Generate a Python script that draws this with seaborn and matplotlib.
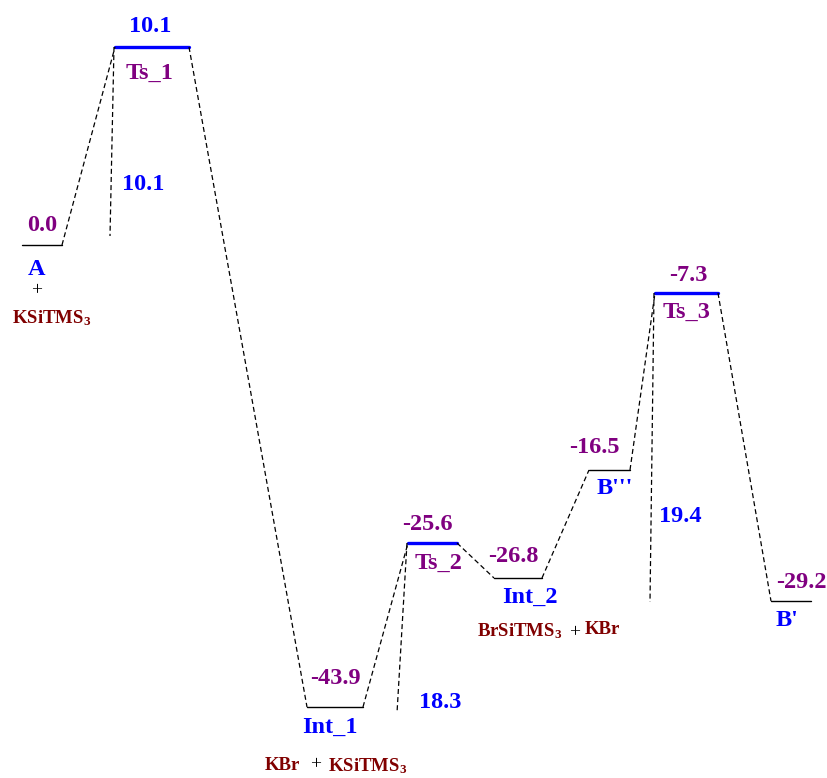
import matplotlib
matplotlib.use("Agg")
import pandas as pd
import matplotlib.pyplot as plt
import seaborn as sns

# --- data (diagram is drawn not to scale) ---
states = ["A", "Ts_1", "Int_1", "Ts_2", "Int_2", "B'''", "Ts_3", "B'"]
energies = ["0.0", "10.1", "-43.9", "-25.6", "-26.8", "-16.5", "-7.3", "-29.2"]
is_ts = [False, True, False, True, False, False, True, False]
# drawn height of each level on the page (pixel scale, downward)
level_y = [245, 47, 707, 543, 578, 470, 293, 601]
level_left = [22, 115, 307, 408, 494, 589, 655, 771]
level_right = [62, 189, 363, 457, 542, 630, 718, 811]

barrier_ts = ["Ts_1", "Ts_2", "Ts_3"]
barrier_values = ["10.1", "18.3", "19.4"]
barrier_bottom = [236, 713, 602]

PURPLE = "#800080"
BLUE = "#0000ff"
MAROON = "#800000"

sns.set_theme(style="white")
plt.rcParams["font.family"] = ["Liberation Serif", "DejaVu Serif"]
plt.rcParams["mathtext.default"] = "regular"

fig = plt.figure(figsize=(8.27, 7.78), dpi=100)
ax = fig.add_axes([0, 0, 1, 1])
ax.set_xlim(0, 827)
ax.set_ylim(778, 0)
ax.axis("off")

# levels
rows = []
for s, l, r, y, ts in zip(states, level_left, level_right, level_y, is_ts):
    rows.append({"state": s, "x": l, "y": y, "ts": ts})
    rows.append({"state": s, "x": r, "y": y, "ts": ts})
levels = pd.DataFrame(rows)
sns.lineplot(data=levels[~levels.ts], x="x", y="y", units="state", estimator=None,
             sort=False, color="black", linewidth=1.0, ax=ax)
sns.lineplot(data=levels[levels.ts], x="x", y="y", units="state", estimator=None,
             sort=False, color=BLUE, linewidth=2.4, ax=ax)

# dashed connectors between consecutive levels
conn = []
for i in range(len(states) - 1):
    conn.append({"seg": i, "x": level_right[i], "y": level_y[i]})
    conn.append({"seg": i, "x": level_left[i + 1], "y": level_y[i + 1]})
# barrier drop lines from each TS
for j, (ts, bot) in enumerate(zip(barrier_ts, barrier_bottom)):
    k = states.index(ts)
    drift = 10 if ts == "Ts_2" else 4
    conn.append({"seg": 100 + j, "x": level_left[k] - 1, "y": level_y[k]})
    conn.append({"seg": 100 + j, "x": level_left[k] - 1 - drift, "y": bot})
conn = pd.DataFrame(conn)
sns.lineplot(data=conn, x="x", y="y", units="seg", estimator=None, sort=False,
             color="black", linewidth=0.9, linestyle=(0, (4, 2.5)), ax=ax)

big = dict(fontsize=17.5, fontweight="bold", ha="center", va="center")
small = dict(fontsize=13.5, fontweight="bold", ha="center", va="center", color=MAROON)
plus = dict(fontsize=14, ha="center", va="center", color="black")

# energy labels (offset from level centre) and state name labels
energy_off = [(0, -20), (-2, -21), (0, -29), (-5, -18), (-5, -22), (-15, -23), (2, -18), (10, -19)]
name_off = [(-5, 24), (-2, 26), (-5, 20), (6, 20), (12, 19), (5, 18), (0, 19), (-4, 19)]
name_color = [BLUE, PURPLE, BLUE, PURPLE, BLUE, BLUE, PURPLE, BLUE]
energy_color = [PURPLE, BLUE, PURPLE, PURPLE, PURPLE, PURPLE, PURPLE, PURPLE]
for i, s in enumerate(states):
    cx = (level_left[i] + level_right[i]) / 2
    ax.text(cx + energy_off[i][0], level_y[i] + energy_off[i][1], energies[i],
            color=energy_color[i], **big)
    ax.text(cx + name_off[i][0], level_y[i] + name_off[i][1], s,
            color=name_color[i], **big)

# barrier heights
barrier_pos = [(143, 184), (440, 703), (680, 516)]
for v, (bx, by) in zip(barrier_values, barrier_pos):
    ax.text(bx, by, v, color=BLUE, **big)

# species notes
ax.text(37, 291, "+", **plus)
ax.text(52, 318, "KSiTMS$_3$", **small)
ax.text(282, 766, "KBr", **small)
ax.text(316, 765, "+", **plus)
ax.text(368, 766, "KSiTMS$_3$", **small)
ax.text(520, 631, "BrSiTMS$_3$", **small)
ax.text(575, 633, "+", **plus)
ax.text(602, 630, "KBr", **small)

fig.savefig("out.png", dpi=100)
